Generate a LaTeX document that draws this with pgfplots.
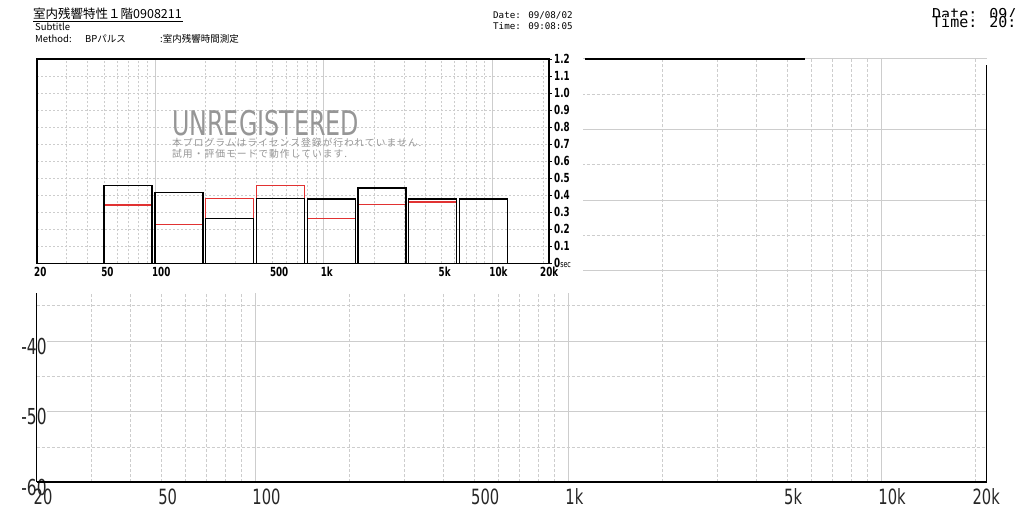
\documentclass[border=0pt]{standalone}
\usepackage{pgfplots}
\pgfplotsset{compat=1.18}
\usepackage{fontspec}
\setmainfont{DejaVu Sans}
\newfontfamily\cond{DejaVu Sans}[FakeStretch=0.7]
\newfontfamily\mono{DejaVu Sans Mono}
\newfontfamily\jp{Noto Sans CJK JP}
\newfontfamily\jpsp{Noto Sans CJK JP}[LetterSpace=10]
\newcommand\fs[1]{\fontsize{#1}{#1}\selectfont}

\definecolor{gridgray}{RGB}{205,205,205}
\definecolor{barred}{RGB}{225,50,50}
\definecolor{wmgray}{RGB}{150,150,150}

\begin{document}
\begin{tikzpicture}[x=1pt,y=1pt]
\useasboundingbox (0,0) rectangle (1024,513);
\clip (0,0) rectangle (1024,513);

% background window: level chart, no data
\begin{axis}[
    at={(36.5pt,30.7pt)}, anchor=south west,
    scale only axis, width=950pt, height=423.5pt,
    xmode=log, xmin=20, xmax=21700, ymin=-60, ymax=0,
    clip=false,
    axis line style={draw=none},
    major tick length=0pt, minor tick length=0pt,
    xtick={100,1000,10000}, xticklabels={},
    minor xtick={30,40,50,60,70,80,90,200,300,400,500,600,700,800,900,2000,3000,4000,5000,6000,7000,8000,9000,20000},
    extra x ticks={20,50,100,500,1000,5000,10000,20000},
    extra x tick labels={20,50,100,500,1k,5k,10k,20k},
    extra x tick style={grid=none},
    xticklabel style={anchor=north west, inner sep=0pt, xshift=-3pt, yshift=-6.5pt,
        font=\cond\fs{21}, text=black!85},
    ytick={-60,-50,...,0}, yticklabels={-60,-50,-40,-30,-20,-10,0},
    minor ytick={-55,-45,...,-5},
    yticklabel style={anchor=center, inner sep=0pt, xshift=-2.5pt, yshift=-5pt,
        font=\cond\fs{22}, text=black!85, fill=white},
    grid=both,
    major grid style={gridgray, line width=0.9pt},
    minor grid style={gridgray, line width=0.7pt, dash pattern=on 3pt off 2pt},
]
\draw[line width=1.6pt] (rel axis cs:0,0) -- (rel axis cs:1,0);
\draw[line width=1.6pt] (rel axis cs:0,0) -- (rel axis cs:0,1);
\draw[line width=1.6pt] (rel axis cs:1,0) -- (rel axis cs:1,0.985);
\draw[line width=1.6pt] (rel axis cs:0.577,1) -- (rel axis cs:0.809,1);
\end{axis}

\node[anchor=base west, inner sep=0pt] at (932,493) {\mono\fs{15}Date: 09/};
\node[anchor=base west, inner sep=0pt, fill=white] at (932,485) {\mono\fs{15}Time: 20:};

% front window
\fill[white] (0,220) rectangle (583,513);

\node[anchor=base west, inner sep=0pt] at (33,494) {\jp\fs{12.5}室内残響特性１階0908211};
\draw[line width=0.8pt] (33,491.5) -- (183,491.5);
\node[anchor=base west, inner sep=0pt] at (35,482) {\jp\fs{9.5}Subtitle};
\node[anchor=base west, inner sep=0pt] at (35,470.5) {\jp\fs{9.5}Method:};
\node[anchor=base west, inner sep=0pt] at (85,470.5) {\jp\fs{9.5}BPパルス};
\node[anchor=base west, inner sep=0pt] at (160,470.5) {\jp\fs{9.5}:室内残響時間測定};
\node[anchor=base west, inner sep=0pt] at (493,494) {\mono\fs{9.2}Date: 09/08/02};
\node[anchor=base west, inner sep=0pt] at (493,483) {\mono\fs{9.2}Time: 09:08:05};

\begin{axis}[
    at={(37pt,249.7pt)}, anchor=south west,
    scale only axis, width=512pt, height=204.3pt,
    xmode=log, xmin=20, xmax=21700, ymin=0, ymax=1.2,
    axis line style={line width=1.5pt},
    xtick={100,1000,10000}, xticklabels={},
    minor xtick={30,40,50,60,70,80,90,200,300,400,500,600,700,800,900,2000,3000,4000,5000,6000,7000,8000,9000,20000},
    extra x ticks={20,50,100,500,1000,5000,10000,20000},
    extra x tick labels={20,50,100,500,1k,5k,10k,20k},
    extra x tick style={grid=none, major tick length=0pt},
    xtick style={draw=none}, minor tick length=0pt,
    xticklabel style={anchor=north west, inner sep=0pt, xshift=-3pt, yshift=-4pt,
        font=\cond\bfseries\fs{12.5}},
    ytick={0,0.1,0.2,0.3,0.4,0.5,0.6,0.7,0.8,0.9,1.0,1.1,1.2},
    yticklabels={0{\mdseries\fs{9}sec},0.1,0.2,0.3,0.4,0.5,0.6,0.7,0.8,0.9,1.0,1.1,1.2},
    ytick pos=right, yticklabel pos=right, tick align=outside,
    major tick length=3pt,
    ytick style={black, line width=0.8pt},
    yticklabel style={anchor=west, inner sep=0pt, xshift=2pt, font=\cond\bfseries\fs{12.5}},
    xmajorgrids, xminorgrids, ymajorgrids,
    major grid style={gridgray, line width=0.8pt},
    minor grid style={gridgray, line width=0.7pt, dash pattern=on 2pt off 2pt},
    y grid style={dash pattern=on 2pt off 2pt},
]
% red series
\addplot[ybar, bar width=48pt, bar shift=0pt, draw=barred, line width=1.3pt] coordinates {
    (69.4,0.342) (138.8,0.229) (277.6,0.382) (555.2,0.458)
    (1110,0.264) (2221,0.346) (4442,0.360)
};
% black series
\addplot[ybar, bar width=48pt, bar shift=0pt, draw=black, line width=1.3pt] coordinates {
    (69.4,0.456) (138.8,0.415) (277.6,0.264) (555.2,0.382)
    (1110,0.378) (2221,0.442) (4442,0.378) (8883,0.378)
};
\end{axis}

% watermark
\node[anchor=west, inner sep=0pt, text=wmgray] at (172,390) {\cond\fs{34}UNREGISTERED};
\node[anchor=west, inner sep=0pt, text=wmgray] at (172,370) {\jpsp\fs{9.8}本プログラムはライセンス登録が行われていません.};
\node[anchor=west, inner sep=0pt, text=wmgray] at (172,359.5) {\jpsp\fs{9.8}試用・評価モードで動作しています.};
\end{tikzpicture}
\end{document}
